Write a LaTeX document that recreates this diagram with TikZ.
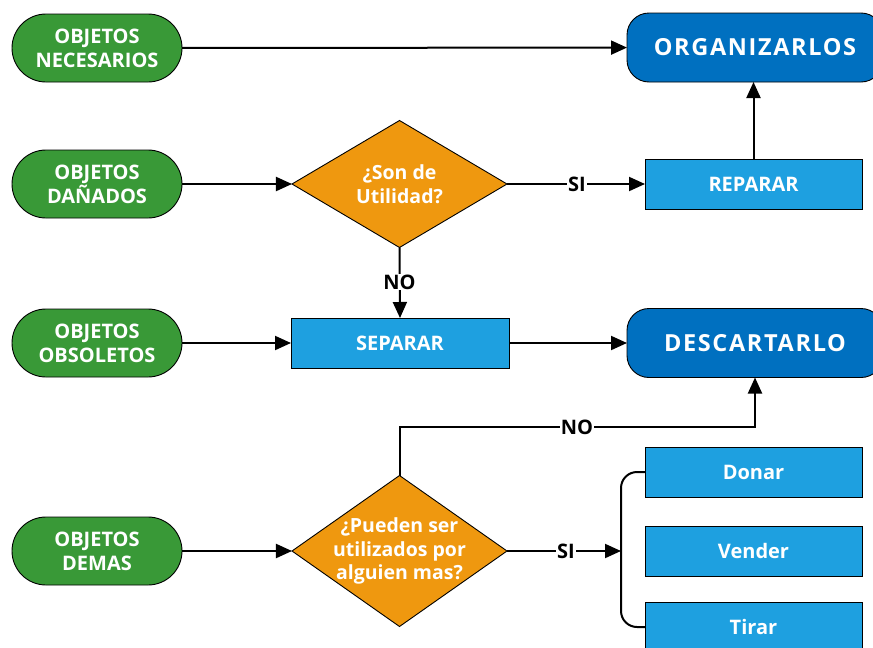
\documentclass[tikz,border=0pt]{standalone}
\usepackage{fontspec}
\setmainfont{Open Sans}
\usetikzlibrary{shapes.geometric,arrows.meta}

\definecolor{startgreen}{RGB}{57,153,55}
\definecolor{askorange}{RGB}{239,152,15}
\definecolor{taskblue}{RGB}{30,160,224}
\definecolor{endblue}{RGB}{0,112,192}

\tikzset{
  base/.style={draw=black, line width=0.9pt, text=white, font=\bfseries\fontsize{20}{24}\selectfont,
    align=center, inner sep=0pt, outer sep=0pt},
  startnode/.style={base, fill=startgreen, minimum width=170pt, minimum height=68pt, rounded corners=34pt},
  endnode/.style={base, fill=endblue, minimum width=256pt, minimum height=69pt, rounded corners=22pt,
    font=\bfseries\fontsize{23.5}{26}\selectfont\addfontfeature{LetterSpace=7}},
  ask/.style={base, diamond, fill=askorange, aspect=1},
  asktext/.style={text=white, font=\bfseries\fontsize{19.5}{23.5}\selectfont, align=center},
  taskbox/.style={base, fill=taskblue, minimum width=217pt, minimum height=50pt},
  flow/.style={line width=2pt, -{Triangle[length=16pt,width=14pt]}},
  plain/.style={line width=2pt},
  branch/.style={fill=white, inner sep=1pt, font=\bfseries\fontsize{20}{22}\selectfont}
}

\begin{document}
\begin{tikzpicture}[x=1pt,y=-1pt]
  \useasboundingbox (0,0) rectangle (873,648);

  % sources
  \node[startnode] (nec) at (97,48)  {OBJETOS\\NECESARIOS};
  \node[startnode] (dan) at (97,184) {OBJETOS\\DAÑADOS};
  \node[startnode] (obs) at (97,343) {OBJETOS\\OBSOLETOS};
  \node[startnode] (dem) at (97,551) {OBJETOS\\DEMAS};

  % outcomes
  \node[endnode] (org)  at (755,47.5) {ORGANIZARLOS};
  \node[endnode] (desc) at (755,343)  {DESCARTARLO};

  % decisions
  \node[ask, minimum width=215pt, minimum height=127pt,
        label={[asktext]center:¿Son de\\Utilidad?}] (util) at (399.5,184) {};
  \node[ask, minimum width=215pt, minimum height=151pt,
        label={[asktext]center:¿Pueden ser\\utilizados por\\alguien mas?}] (otro) at (399.5,551) {};

  % actions
  \node[taskbox] (rep) at (753.5,184) {REPARAR};
  \node[taskbox, minimum width=218pt] (sep) at (400,343) {SEPARAR};
  \node[taskbox] (don) at (753.5,472) {Donar};
  \node[taskbox] (ven) at (753.5,551) {Vender};
  \node[taskbox] (tir) at (753.5,627) {Tirar};

  % helper points
  \coordinate (nobend) at (755,427);
  \coordinate (brace) at (621,551);

  % connectors
  \draw[flow] (nec) -- (org);
  \draw[flow] (dan) -- (util);
  \draw[flow] (util.east) -- (rep.west);
  \draw[flow] (rep.north) -- (rep.north |- org.south);
  \draw[flow] (util.south) -- (sep.north);
  \draw[flow] (obs) -- (sep);
  \draw[flow] (sep) -- (desc);
  \draw[flow] (dem) -- (otro);
  \draw[flow] (otro.north) |- (nobend) -- (desc.south);
  \draw[flow] (otro.east) -- (brace);
  \draw[plain, rounded corners=16pt] (don.west) -| (brace) |- (tir.west);

  % branch labels
  \node[branch] (si1) at (577,184) {SI};
  \node[branch] (no1) at (399.5,282) {NO};
  \node[branch] (no2) at (577,427) {NO};
  \node[branch] (si2) at (566,551) {SI};
\end{tikzpicture}
\end{document}
